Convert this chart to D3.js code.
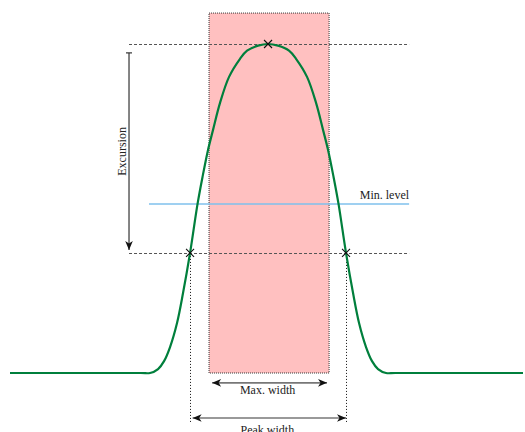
<!DOCTYPE html>
<html>
<head>
<meta charset="utf-8">
<script src="https://cdn.jsdelivr.net/npm/d3@7"></script>
<style>
html,body{margin:0;padding:0;background:#fff;}
svg{display:block;}
text{font-family:"Liberation Serif","DejaVu Serif",serif;font-size:12px;fill:#222;}
</style>
</head>
<body>
<svg id="chart" width="525" height="432"></svg>
<script>
// Pulse curve samples (time, amplitude)
const pulseT = [0, 25.5, 27.3, 28.86, 30.03, 31.20, 32.56, 33.73, 35.10, 36.56, 37.53, 38.60, 39.58, 40.94, 42.70, 44.84, 46.21, 48.35,
                50.3,
                52.25, 54.39, 55.76, 57.90, 59.66, 61.02, 62.00, 63.07, 64.04, 65.50, 66.87, 68.04, 69.40, 70.57, 71.74, 73.3, 75.1, 100];
const pulseA = [0, 0, 0, 0.012, 0.036, 0.079, 0.152, 0.243, 0.365, 0.514, 0.596, 0.678, 0.739, 0.821, 0.900, 0.955, 0.980, 0.995,
                1.0,
                0.995, 0.980, 0.955, 0.900, 0.821, 0.739, 0.678, 0.596, 0.514, 0.365, 0.243, 0.152, 0.079, 0.036, 0.012, 0, 0, 0];

// Annotation values
const peakPoint = [50.3, 1.0];
const thresholdLevel = 0.365;
const crossings = [35.1, 65.5];
const minLevel = 0.514;
const maxWindow = [38.8, 62.2];     // allowed max-width window
const windowTop = 1.094;
const refLines = [23.2, 77.8];      // horizontal extent of reference lines
const minLevelStart = 27.1;
const excursionX = 23.2;
const excursionRange = [0.973, 0.374];
const maxWidthArrow = [39.4, 61.8];
const maxWidthLevel = -0.030;
const peakWidthArrow = [35.6, 65.5];
const peakWidthLevel = -0.137;
const dropLevel = -0.149;
const labels = {excursion: "Excursion", minLevel: "Min. level", maxWidth: "Max. width", peakWidth: "Peak width"};

const svg = d3.select("#chart");
const x = d3.scaleLinear().domain([0, 100]).range([10, 523]);
const y = d3.scaleLinear().domain([0, 1]).range([373, 44]);

const defs = svg.append("defs");
function arrowMarker(id, color) {
  defs.append("marker").attr("id", id).attr("markerUnits", "userSpaceOnUse")
    .attr("viewBox", "-10 -5 12 10").attr("refX", 0).attr("refY", 0)
    .attr("markerWidth", 12).attr("markerHeight", 10).attr("orient", "auto-start-reverse")
    .append("path").attr("d", "M0,0 L-9,-3.8 L-6.5,0 L-9,3.8 Z").attr("fill", color);
}
arrowMarker("arr", "#111");
defs.append("marker").attr("id", "bar").attr("markerUnits", "userSpaceOnUse")
  .attr("viewBox", "-4 -4 8 8").attr("refX", 0).attr("refY", 0)
  .attr("markerWidth", 8).attr("markerHeight", 8).attr("orient", "auto")
  .append("path").attr("d", "M0,-3 L0,3").attr("stroke", "#333").attr("stroke-width", 1.2);

// Window rectangle
svg.append("rect")
  .attr("x", x(maxWindow[0])).attr("y", y(windowTop))
  .attr("width", x(maxWindow[1]) - x(maxWindow[0]))
  .attr("height", y(0) - y(windowTop))
  .attr("fill", "#ffc0c0")
  .attr("stroke", "#333").attr("stroke-width", 1).attr("stroke-dasharray", "1,1");

// Reference dashed lines
[1.0, thresholdLevel].forEach(v => {
  svg.append("line")
    .attr("x1", x(refLines[0])).attr("x2", x(refLines[1]))
    .attr("y1", Math.round(y(v)) + 0.5).attr("y2", Math.round(y(v)) + 0.5)
    .attr("stroke", "#555").attr("stroke-width", 1).attr("stroke-dasharray", "3,2");
});

// Vertical dotted drops
crossings.forEach(c => {
  svg.append("line")
    .attr("x1", Math.round(x(c)) + 0.5).attr("x2", Math.round(x(c)) + 0.5)
    .attr("y1", y(thresholdLevel)).attr("y2", y(dropLevel))
    .attr("stroke", "#111").attr("stroke-width", 1).attr("stroke-dasharray", "1,2");
});

// Min level line
svg.append("line")
  .attr("x1", x(minLevelStart)).attr("x2", x(refLines[1]))
  .attr("y1", y(minLevel)).attr("y2", y(minLevel))
  .attr("stroke", "#7fc0ec").attr("stroke-width", 1.5);
svg.append("text").attr("x", x(refLines[1])).attr("y", y(minLevel) - 5)
  .attr("text-anchor", "end").text(labels.minLevel);

// Pulse curve
const pts = pulseT.map((t, i) => [t, pulseA[i]]);
svg.append("path")
  .attr("d", d3.line().x(d => x(d[0])).y(d => y(d[1])).curve(d3.curveCatmullRom.alpha(0.5))(pts))
  .attr("fill", "none").attr("stroke", "#007f3c").attr("stroke-width", 2.2);

// X markers
function cross(px, py) {
  const s = 4;
  svg.append("path")
    .attr("d", `M${px - s},${py - s}L${px + s},${py + s}M${px - s},${py + s}L${px + s},${py - s}`)
    .attr("stroke", "#111").attr("stroke-width", 1.1);
}
cross(x(peakPoint[0]), y(peakPoint[1]));
crossings.forEach(c => cross(x(c), y(thresholdLevel)));

// Excursion arrow
svg.append("line")
  .attr("x1", x(excursionX)).attr("x2", x(excursionX))
  .attr("y1", y(excursionRange[0])).attr("y2", y(excursionRange[1]))
  .attr("stroke", "#333").attr("stroke-width", 1.2)
  .attr("marker-start", "url(#bar)").attr("marker-end", "url(#arr)");
svg.append("text")
  .attr("transform", `translate(${x(excursionX) - 3},${(y(excursionRange[0]) + y(excursionRange[1])) / 2}) rotate(-90)`)
  .attr("text-anchor", "middle").text(labels.excursion);

// Width arrows
function widthArrow(range, level, label, dy) {
  const yy = y(level);
  svg.append("line")
    .attr("x1", x(range[0])).attr("x2", x(range[1]))
    .attr("y1", yy).attr("y2", yy)
    .attr("stroke", "#777").attr("stroke-width", 1.6)
    .attr("marker-start", "url(#arr)").attr("marker-end", "url(#arr)");
  svg.append("text").attr("x", (x(range[0]) + x(range[1])) / 2 - 2).attr("y", yy + dy)
    .attr("text-anchor", "middle").text(label);
}
widthArrow(maxWidthArrow, maxWidthLevel, labels.maxWidth, 11);
widthArrow(peakWidthArrow, peakWidthLevel, labels.peakWidth, 16);
</script>
</body>
</html>
